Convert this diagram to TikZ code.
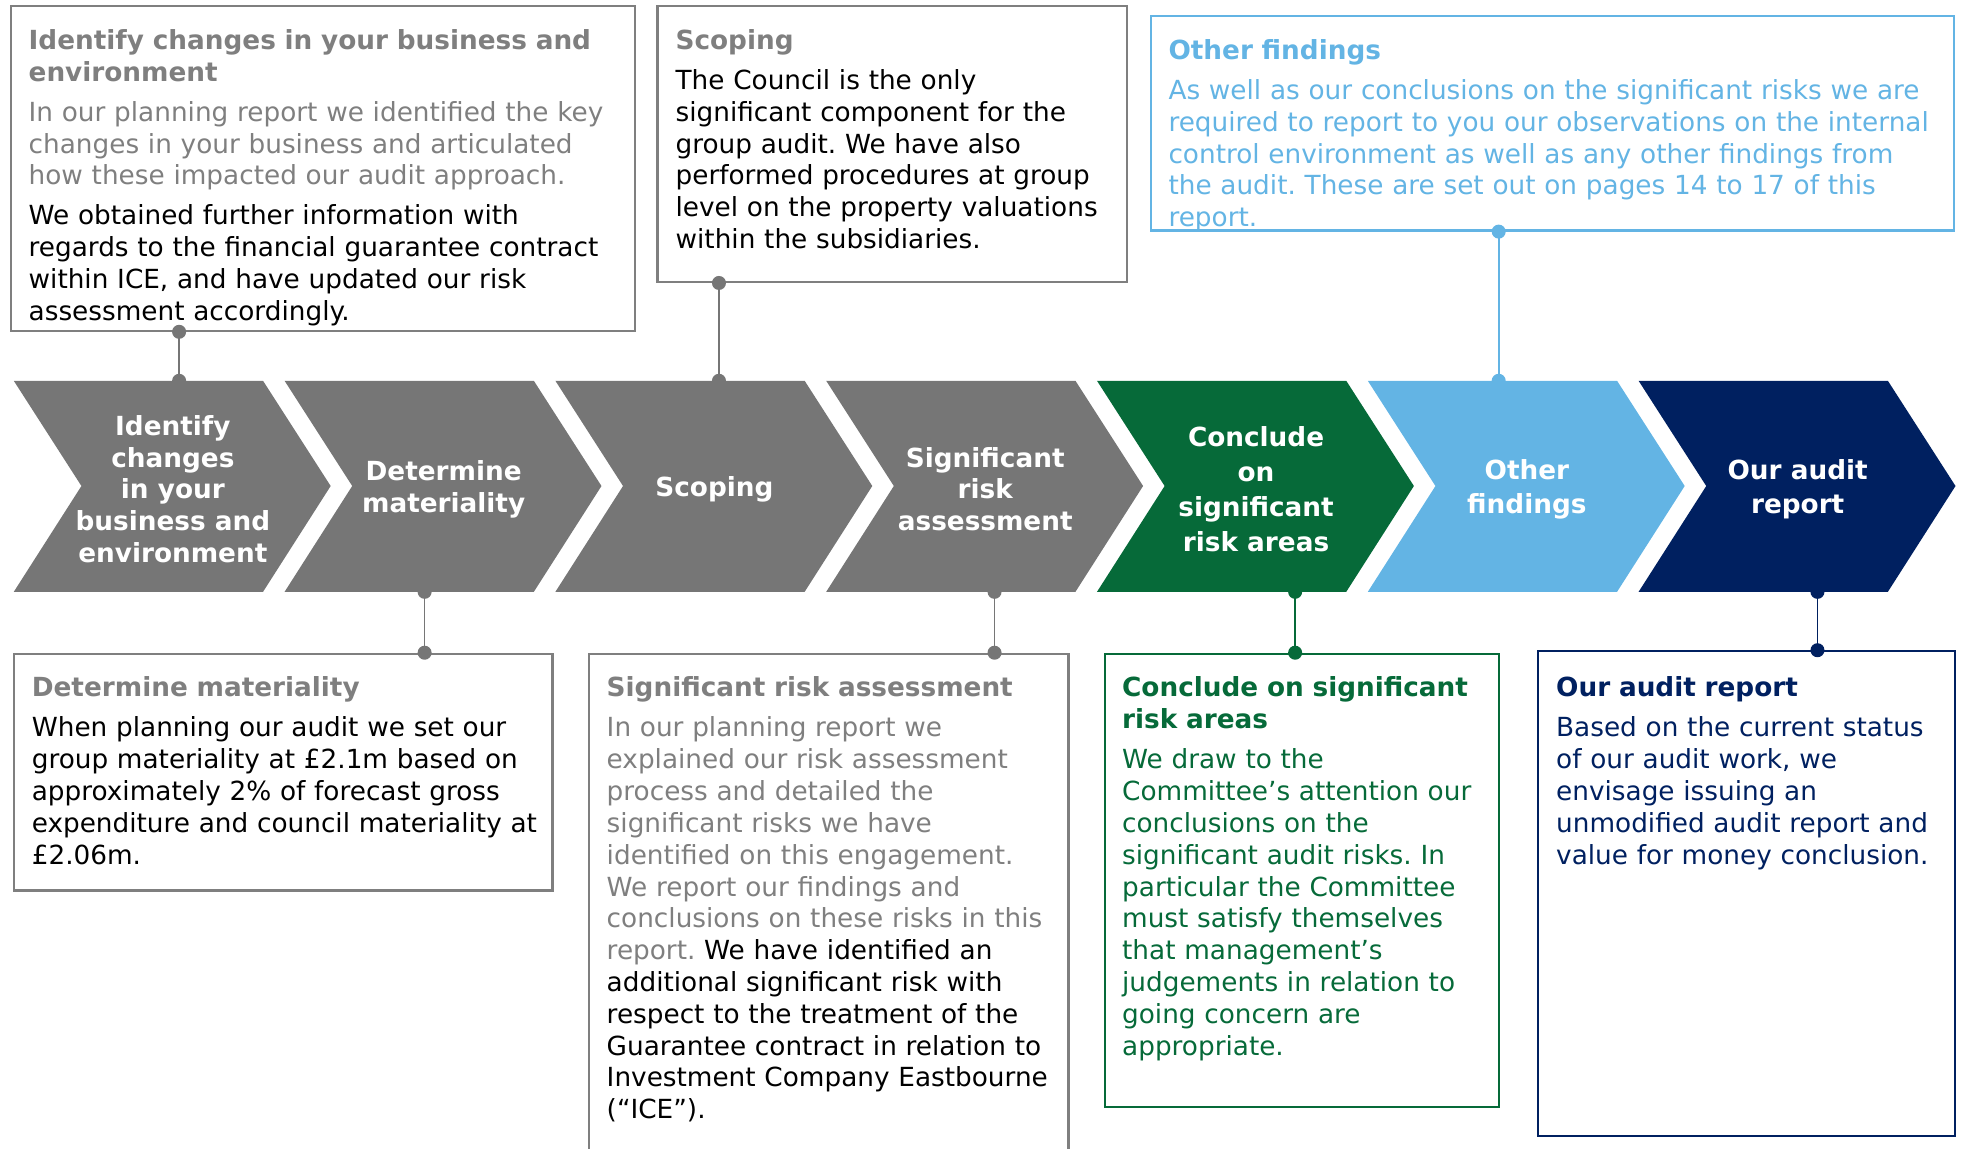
\documentclass[tikz,border=0pt]{standalone}
\usepackage{fontspec}
\setmainfont{DejaVu Sans}
\usetikzlibrary{fit}
\frenchspacing

\definecolor{stepgray}{HTML}{767676}
\definecolor{textgray}{HTML}{7F7F7F}
\definecolor{stepgreen}{HTML}{066A39}
\definecolor{stepblue}{HTML}{63B4E4}
\definecolor{stepnavy}{HTML}{002060}

\tikzset{
  card/.style={draw=#1, line width=0.9pt, inner sep=0pt},
  cardtext/.style={anchor=north west, inner sep=0pt, align=left, text width=#1,
    font=\fontsize{10.5}{12.7}\selectfont},
  steptext/.style={text=white, align=center, inner sep=0pt,
    font=\bfseries\fontsize{10.5}{12.7}\selectfont},
  link/.style={#1, line width=0.7pt},
}

\begin{document}
\begin{tikzpicture}[x=0.5pt, y=-0.5pt]
	\useasboundingbox (0,0) rectangle (1568,917);

	% chevrons
	\foreach \i/\col/\txt in {0/stepgray/{Identify\\changes\\in your\\business and\\environment},
		1/stepgray/{Determine\\[0.3pt]materiality},
		2/stepgray/{Scoping},
		3/stepgray/{Significant\\risk\\assessment},
		4/stepgreen/{Conclude\\[1.3pt]on\\[1.3pt]significant\\[1.3pt]risk areas},
		5/stepblue/{Other\\[0.8pt]findings},
		6/stepnavy/{Our audit\\[0.8pt]report}}
	{
		\pgfmathsetmacro\xl{11+216.2*\i}
		\fill[\col] (\xl,304) -- ++(199,0) -- (\xl+253,388) -- (\xl+199,472.5)
			-- (\xl,472.5) -- (\xl+54,388) -- cycle;
		\node[steptext] (s\i) at (\xl+127,390.5) {\txt};
	}

	\coordinate (up1) at (143,304);
	\coordinate (up3) at (574,304);
	\coordinate (up6) at (1196.5,304);
	\coordinate (dn2) at (339,472.5);
	\coordinate (dn4) at (794,472.5);
	\coordinate (dn5) at (1034,472.5);
	\coordinate (dn7) at (1451,472.5);

	% cards
	\node[card=textgray, fit={(9,5) (507,264)}] (b1) {};
	\node[card=textgray, fit={(525,5) (900,225)}] (b2) {};
	\node[card=stepblue, fit={(919,13) (1560,184)}] (b3) {};
	\node[card=textgray, fit={(11,522) (441,711)}] (b4) {};
	\node[card=textgray, fit={(470,522) (853,935)}] (b5) {};
	\node[card=stepgreen, fit={(882,522) (1197,884)}] (b6) {};
	\node[card=stepnavy, fit={(1228,520) (1561,907)}] (b7) {};

	\node[cardtext=250pt, text=textgray] (t1) at (22.5,23)
		{\textbf{Identify changes in your business and}\\\textbf{environment}\\[3.3pt]
		In our planning report we identified the key\\changes in your business and articulated\\how these impacted our audit approach.\\[3.3pt]
		\color{black}We obtained further information with\\regards to the financial guarantee contract\\within ICE, and have updated our risk\\assessment accordingly.};
	\node[cardtext=200pt, text=black] (t2) at (539,23)
		{\textcolor{textgray}{\textbf{Scoping}}\\[3.3pt]
		The Council is the only\\significant component for the\\group audit. We have also\\performed procedures at group\\level on the property valuations\\within the subsidiaries.};
	\node[cardtext=330pt, text=stepblue] (t3) at (932.5,31)
		{\textbf{Other findings}\\[3.3pt]
		As well as our conclusions on the significant risks we are\\required to report to you our observations on the internal\\control environment as well as any other findings from\\the audit. These are set out on pages 14 to 17 of this\\report.};
	\node[cardtext=225pt, text=black] (t4) at (25,540)
		{\textcolor{textgray}{\textbf{Determine materiality}}\\[3.3pt]
		When planning our audit we set our\\group materiality at £2.1m based on\\approximately 2\% of forecast gross\\expenditure and council materiality at\\£2.06m.};
	\node[cardtext=205pt, text=textgray] (t5) at (484,540)
		{\textbf{Significant risk assessment}\\[3.3pt]
		In our planning report we\\explained our risk assessment\\process and detailed the\\significant risks we have\\identified on this engagement.\\We report our findings and\\conclusions on these risks in this\\report. \color{black}We have identified an\\additional significant risk with\\respect to the treatment of the\\Guarantee contract in relation to\\Investment Company Eastbourne\\(“ICE”).};
	\node[cardtext=170pt, text=stepgreen] (t6) at (895.5,540)
		{\textbf{Conclude on significant}\\\textbf{risk areas}\\[3.3pt]
		We draw to the\\Committee’s attention our\\conclusions on the\\significant audit risks. In\\particular the Committee\\must satisfy themselves\\that management’s\\judgements in relation to\\going concern are\\appropriate.};
	\node[cardtext=180pt, text=stepnavy] (t7) at (1242,540)
		{\textbf{Our audit report}\\[3.3pt]
		Based on the current status\\of our audit work, we\\envisage issuing an\\unmodified audit report and\\value for money conclusion.};

	% links
	\foreach \bx/\cx/\col in {b1/up1/stepgray, b2/up3/stepgray, b3/up6/stepblue}
	{
		\draw[link=\col] (\bx.south -| \cx) -- (\cx);
		\fill[\col] (\bx.south -| \cx) circle (2.8pt) (\cx) circle (2.8pt);
	}
	\foreach \bx/\cx/\col in {b4/dn2/stepgray, b5/dn4/stepgray, b6/dn5/stepgreen, b7/dn7/stepnavy}
	{
		\draw[link=\col] (\bx.north -| \cx) -- (\cx);
		\fill[\col] (\bx.north -| \cx) circle (2.8pt) (\cx) circle (2.8pt);
	}
\end{tikzpicture}
\end{document}
